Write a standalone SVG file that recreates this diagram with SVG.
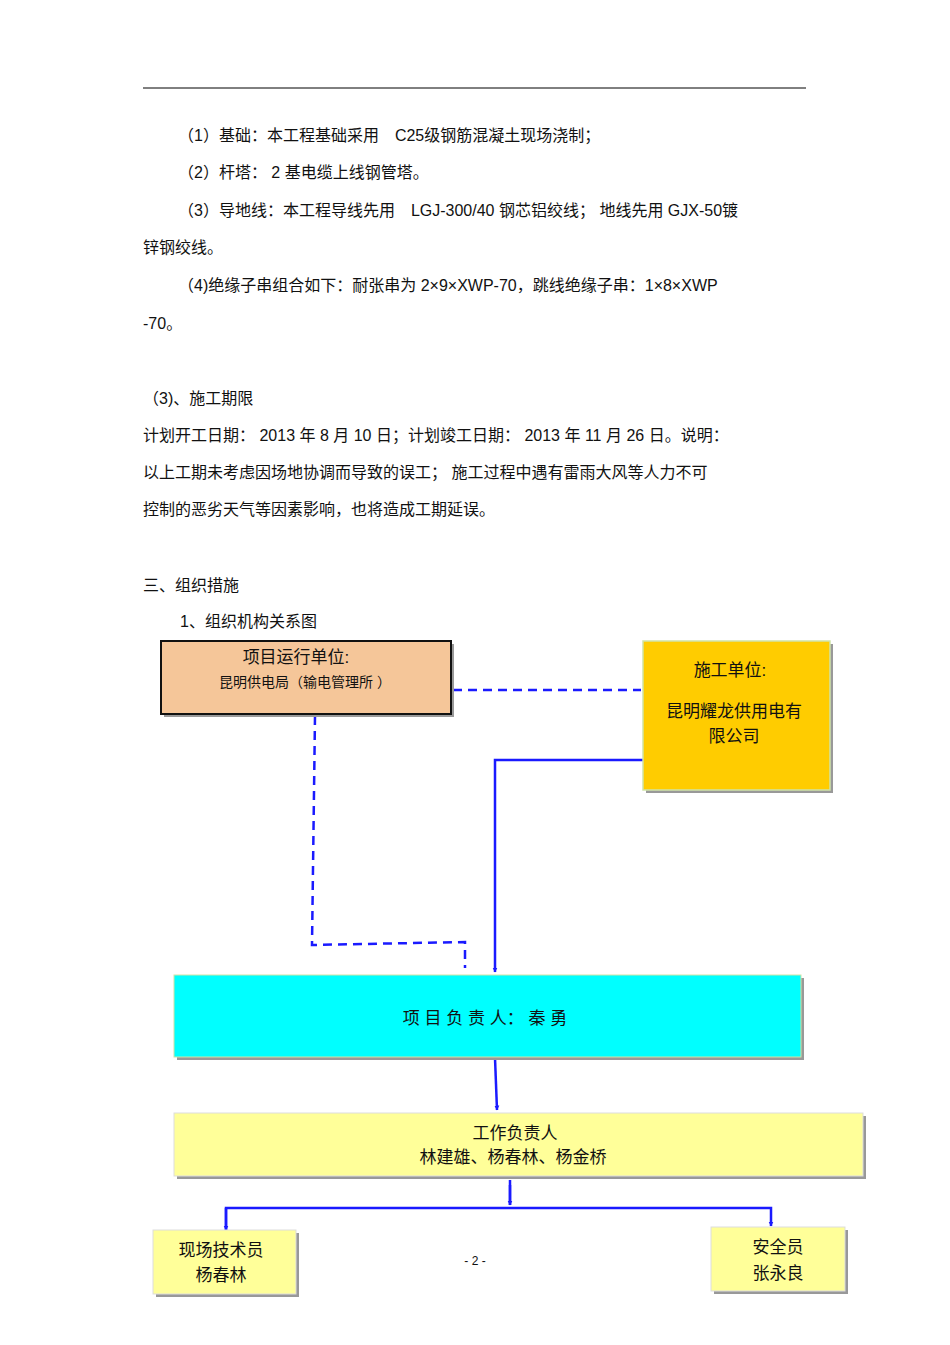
<svg xmlns="http://www.w3.org/2000/svg" width="950" height="1345" viewBox="0 0 950 1345">
<defs>
<style>
text{font-family:"Liberation Sans","Noto Sans CJK SC",sans-serif;fill:#111}
.p{font-size:16px}
.n{font-size:17px;text-anchor:middle}
.s{font-size:14px;text-anchor:middle}
.c{fill:none;stroke:#1a1aff;stroke-width:2.5}
.d{stroke-dasharray:9,6}
.sh{fill:#999}
</style>
<marker id="a" viewBox="0 0 10 10" refX="9" refY="5" markerWidth="5" markerHeight="7" orient="auto" markerUnits="userSpaceOnUse"><path d="M0,0L10,5L0,10z" fill="#1a1aff"/></marker>
</defs>
<rect width="950" height="1345" fill="#fff"/>
<line x1="143" y1="88" x2="806" y2="88" stroke="#000" stroke-width="1"/>
<g class="body">
<text class="p" x="178" y="141">（1）基础：本工程基础采用　C25级钢筋混凝土现场浇制；</text>
<text class="p" x="178" y="178">（2）杆塔：  2 基电缆上线钢管塔。</text>
<text class="p" x="178" y="216">（3）导地线：本工程导线先用　LGJ-300/40 钢芯铝绞线；  地线先用  GJX-50镀</text>
<text class="p" x="143" y="253">锌钢绞线。</text>
<text class="p" x="178" y="291">（4)绝缘子串组合如下：耐张串为  2×9×XWP-70，跳线绝缘子串：1×8×XWP</text>
<text class="p" x="143" y="329">-70。</text>
<text class="p" x="143" y="404">（3)、施工期限</text>
<text class="p" x="143" y="441">计划开工日期：  2013 年 8 月 10 日；计划竣工日期：   2013 年 11 月 26 日。说明：</text>
<text class="p" x="143" y="478">以上工期未考虑因场地协调而导致的误工；     施工过程中遇有雷雨大风等人力不可</text>
<text class="p" x="143" y="515">控制的恶劣天气等因素影响，也将造成工期延误。</text>
<text class="p" x="143" y="591">三、组织措施</text>
<text class="p" x="180" y="627">1、组织机构关系图</text>
<text x="475" y="1265" style="font-size:12px;text-anchor:middle">- 2 -</text>
</g>
<g id="connectors">
<path class="c d" d="M453,690H641"/>
<path class="c d" d="M315,716L312,945L465,942V968"/>
<path class="c" d="M643,760H495V972" marker-end="url(#a)"/>
<path class="c" d="M495,1058L497,1110" marker-end="url(#a)"/>
<path class="c" d="M510,1180V1205"/>
<path class="c" d="M226,1230V1208H771V1226" marker-end="url(#a)"/>
<path class="c" d="M226,1208V1230" marker-end="url(#a)"/>
<path class="c" d="M510,1185V1205" marker-end="url(#a)"/>
</g>
<g id="n1"><rect class="sh" x="164" y="644" width="290" height="73"/><rect x="161" y="641" width="290" height="73" fill="#f5c699" stroke="#111" stroke-width="2"/>
<text class="n" x="296" y="663">项目运行单位:</text><text class="s" x="305" y="687">昆明供电局（输电管理所 ）</text></g>
<g id="n2"><rect class="sh" x="646" y="644" width="187" height="149"/><rect x="643" y="641" width="187" height="149" fill="#ffcc00" stroke="#cfe3a8" stroke-width="1.5"/>
<text class="n" x="730" y="676">施工单位:</text><text class="n" x="734" y="717">昆明耀龙供用电有</text><text class="n" x="734" y="742">限公司</text></g>
<g id="n3"><rect class="sh" x="177" y="978" width="627" height="82"/><rect x="174" y="975" width="627" height="82" fill="#00ffff" stroke="#cfe3a8"/>
<text class="n" x="485" y="1024">项 目 负 责 人：  秦 勇</text></g>
<g id="n4"><rect class="sh" x="177" y="1116" width="689" height="63"/><rect x="174" y="1113" width="689" height="63" fill="#ffff99" stroke="#ddd"/>
<text class="n" x="515" y="1139">工作负责人</text><text class="n" x="513" y="1163">林建雄、杨春林、杨金桥</text></g>
<g id="n5"><rect class="sh" x="156" y="1233" width="143" height="64"/><rect x="153" y="1230" width="143" height="64" fill="#ffff99" stroke="#ddd"/>
<text class="n" x="221" y="1256">现场技术员</text><text class="n" x="221" y="1281">杨春林</text></g>
<g id="n6"><rect class="sh" x="714" y="1230" width="134" height="64"/><rect x="711" y="1227" width="134" height="64" fill="#ffff99" stroke="#ddd"/>
<text class="n" x="778" y="1253">安全员</text><text class="n" x="778" y="1279">张永良</text></g>
</svg>
